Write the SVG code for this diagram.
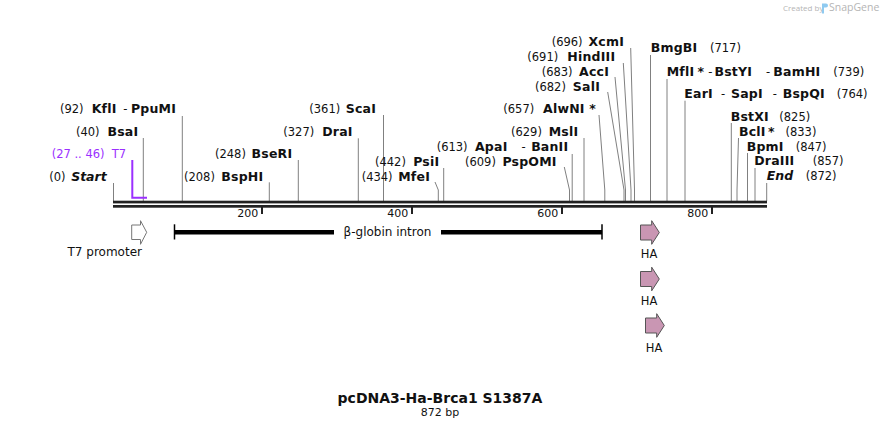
<svg xmlns="http://www.w3.org/2000/svg" width="880" height="429" viewBox="0 0 880 429">
<style>
text{font-family:"DejaVu Sans","Verdana",sans-serif;fill:#111}
.n{font-size:11.5px}
.b{font-size:12.5px;font-weight:bold;letter-spacing:0.2px}
.bi{font-size:12.5px;font-weight:bold;font-style:italic}
.e{text-anchor:end}
.p{fill:#9b30ff;font-size:11.5px}
.cut{stroke:#808080;stroke-width:1;fill:none}
.tick{font-size:11px;text-anchor:end}
.ha{fill:#c996b3;stroke:#555;stroke-width:1}
.fl{font-size:12px}
.hal{font-size:11.5px;text-anchor:middle}
.wm{font-family:"Open Sans","Liberation Sans",sans-serif;fill:#b5b5b5}
</style>
<rect width="880" height="429" fill="#fff"/>

<g id="watermark">
<text class="wm" x="783" y="10.5" font-size="8">Created by</text>
<path d="M822,3.5 h4 a2,2 0 0 1 0,4 h-2 v6 h-2 z" fill="#8fcaf0"/>
<text class="wm" x="829" y="11" font-size="10.5">SnapGene</text>
</g>

<g id="connectors">
<line class="cut" x1="113.5" y1="183" x2="113.5" y2="201"/>
<line class="cut" x1="143.3" y1="138" x2="143.3" y2="201"/>
<line class="cut" x1="182.3" y1="116" x2="182.3" y2="201"/>
<line class="cut" x1="269.3" y1="182.3" x2="269.3" y2="201"/>
<line class="cut" x1="298.3" y1="160" x2="298.3" y2="201"/>
<line class="cut" x1="358.3" y1="138.3" x2="358.3" y2="201"/>
<line class="cut" x1="383.5" y1="115" x2="383.5" y2="201"/>
<polyline class="cut" points="435,182 438.3,190 438.3,201"/>
<line class="cut" x1="443.7" y1="168" x2="443.7" y2="201"/>
<polyline class="cut" points="564.3,167 569.5,190 569.5,201"/>
<line class="cut" x1="572.2" y1="154" x2="572.2" y2="201"/>
<line class="cut" x1="584" y1="138" x2="584" y2="201"/>
<polyline class="cut" points="599,115 604.8,190 604.8,201"/>
<polyline class="cut" points="607.7,92 624,190 624,201"/>
<polyline class="cut" points="615,77 625.5,190 625.5,201"/>
<polyline class="cut" points="623.3,63 631,190 631,201"/>
<polyline class="cut" points="630.7,48 634.5,190 634.5,201"/>
<line class="cut" x1="650.5" y1="55" x2="650.5" y2="201"/>
<line class="cut" x1="667" y1="79" x2="667" y2="201"/>
<line class="cut" x1="685" y1="100.7" x2="685" y2="201"/>
<line class="cut" x1="731.3" y1="123" x2="731.3" y2="201"/>
<polyline class="cut" points="738.5,138 737,190 737,201"/>
<line class="cut" x1="747.5" y1="153" x2="747.5" y2="201"/>
<line class="cut" x1="755" y1="168" x2="755" y2="201"/>
<line class="cut" x1="766.7" y1="183" x2="766.7" y2="201"/>
</g>

<g id="backbone">
<rect x="113" y="200.7" width="654" height="2.7" fill="#222"/>
<rect x="113" y="205" width="654" height="2.7" fill="#222"/>
<rect x="261" y="207" width="2" height="7" fill="#222"/>
<rect x="411" y="207" width="2" height="7" fill="#222"/>
<rect x="561" y="207" width="2" height="7" fill="#222"/>
<rect x="711" y="207" width="2" height="7" fill="#222"/>
<text class="tick" x="258.3" y="217.3">200</text>
<text class="tick" x="408.3" y="217.3">400</text>
<text class="tick" x="558.3" y="217.3">600</text>
<text class="tick" x="708.3" y="217.3">800</text>
</g>

<g id="site-start"><text class="n" x="49.3" y="181">(0)</text><text class="bi e" x="106.7" y="181">Start</text></g>
<g id="feature-t7">
<text class="p" x="51.7" y="158">(27 .. 46)</text><text class="p e" x="126" y="158">T7</text>
<polyline points="132.3,160 132.3,197.8 147,197.8" fill="none" stroke="#9b30ff" stroke-width="2"/>
</g>
<g id="site-bsai"><text class="n" x="76" y="136">(40)</text><text class="b e" x="138.3" y="136">BsaI</text></g>
<g id="site-kfli"><text class="n" x="60" y="113">(92)</text><text class="b" x="91.7" y="113">KflI</text><text class="n" x="123.3" y="113">-</text><text class="b e" x="176" y="113">PpuMI</text></g>
<g id="site-bsphi"><text class="n" x="184" y="181">(208)</text><text class="b e" x="263.3" y="181">BspHI</text></g>
<g id="site-bseri"><text class="n" x="215" y="158">(248)</text><text class="b e" x="292.3" y="158">BseRI</text></g>
<g id="site-drai"><text class="n" x="283.3" y="136">(327)</text><text class="b e" x="352.7" y="136">DraI</text></g>
<g id="site-scai"><text class="n" x="309.3" y="113">(361)</text><text class="b e" x="376" y="113">ScaI</text></g>
<g id="site-mfei"><text class="n" x="361.7" y="181">(434)</text><text class="b e" x="430" y="181">MfeI</text></g>
<g id="site-psii"><text class="n" x="375" y="166">(442)</text><text class="b e" x="439.3" y="166">PsiI</text></g>
<g id="site-pspomi"><text class="n" x="465" y="165.5">(609)</text><text class="b e" x="556.7" y="165.5">PspOMI</text></g>
<g id="site-apai"><text class="n" x="436.7" y="151">(613)</text><text class="b" x="475" y="151">ApaI</text><text class="n" x="521.5" y="151">-</text><text class="b e" x="568.3" y="151">BanII</text></g>
<g id="site-msli"><text class="n" x="511" y="135.5">(629)</text><text class="b e" x="578.3" y="135.5">MslI</text></g>
<g id="site-alwni"><text class="n" x="503.3" y="112.5">(657)</text><text class="b e" x="596" y="112.5">AlwNI *</text></g>
<g id="site-sali"><text class="n" x="535" y="91">(682)</text><text class="b e" x="600" y="91">SalI</text></g>
<g id="site-acci"><text class="n" x="541.7" y="76">(683)</text><text class="b e" x="609" y="76">AccI</text></g>
<g id="site-hindiii"><text class="n" x="527.3" y="61">(691)</text><text class="b e" x="615.3" y="61">HindIII</text></g>
<g id="site-xcmi"><text class="n" x="551.7" y="46">(696)</text><text class="b e" x="624" y="46">XcmI</text></g>
<g id="site-bmgbi"><text class="b" x="650.7" y="52.3">BmgBI</text><text class="n" x="710" y="52.3">(717)</text></g>
<g id="site-mfli"><text class="b" x="666.7" y="75.7">MflI</text><text class="b" x="697.5" y="75.7">*</text><text class="n" x="708.3" y="75.7">-</text><text class="b" x="714.5" y="75.7">BstYI</text><text class="n" x="766" y="75.7">-</text><text class="b" x="773.3" y="75.7">BamHI</text><text class="n" x="833.3" y="75.7">(739)</text></g>
<g id="site-eari"><text class="b" x="684.3" y="97.7">EarI</text><text class="n" x="721" y="97.7">-</text><text class="b" x="731" y="97.7">SapI</text><text class="n" x="772.8" y="97.7">-</text><text class="b" x="782.7" y="97.7">BspQI</text><text class="n" x="836.7" y="97.7">(764)</text></g>
<g id="site-bstxi"><text class="b" x="730.7" y="120.7">BstXI</text><text class="n" x="779.3" y="120.7">(825)</text></g>
<g id="site-bcli"><text class="b" x="739" y="135.7">BclI</text><text class="b" x="768" y="135.7">*</text><text class="n" x="785.5" y="135.7">(833)</text></g>
<g id="site-bpmi"><text class="b" x="746.7" y="150.7">BpmI</text><text class="n" x="795.7" y="150.7">(847)</text></g>
<g id="site-draiii"><text class="b" x="754.3" y="165">DraIII</text><text class="n" x="812.7" y="165">(857)</text></g>
<g id="site-end"><text class="bi" x="766.7" y="180">End</text><text class="n" x="805.7" y="180">(872)</text></g>

<g id="feature-t7-promoter">
<path d="M131.7,225 L140.5,225 L140.5,220.7 L146.7,232.3 L140.5,244.3 L140.5,239.5 L131.7,239.5 Z" fill="#fff" stroke="#777" stroke-width="1"/>
<text class="fl" x="67.5" y="256">T7 promoter</text>
</g>
<g id="feature-globin">
<line x1="174.5" y1="232.2" x2="334" y2="232.2" stroke="#000" stroke-width="4.5"/>
<line x1="441" y1="232.2" x2="602" y2="232.2" stroke="#000" stroke-width="4.5"/>
<line x1="174.5" y1="224.3" x2="174.5" y2="239.5" stroke="#000" stroke-width="1.5"/>
<line x1="602" y1="224.3" x2="602" y2="239.5" stroke="#000" stroke-width="1.5"/>
<text class="fl" x="387.5" y="236.3" text-anchor="middle">β-globin intron</text>
</g>
<g id="feature-ha-1">
<path class="ha" d="M640.5,225 L651.7,225 L651.7,220.7 L659.3,232.5 L651.7,244.3 L651.7,240 L640.5,240 Z"/>
<text class="hal" x="649" y="258.3">HA</text>
</g>
<g id="feature-ha-2">
<path class="ha" d="M640.5,271.5 L651.7,271.5 L651.7,267.2 L659.3,279 L651.7,290.8 L651.7,286.5 L640.5,286.5 Z"/>
<text class="hal" x="649" y="305">HA</text>
</g>
<g id="feature-ha-3">
<path class="ha" d="M645.5,318 L656.7,318 L656.7,313.7 L664.3,325.5 L656.7,337.3 L656.7,333 L645.5,333 Z"/>
<text class="hal" x="654" y="351.5">HA</text>
</g>

<g id="title">
<text x="440" y="403.3" text-anchor="middle" font-size="14" font-weight="bold">pcDNA3-Ha-Brca1 S1387A</text>
<text x="440" y="416" text-anchor="middle" font-size="11">872 bp</text>
</g>
</svg>
